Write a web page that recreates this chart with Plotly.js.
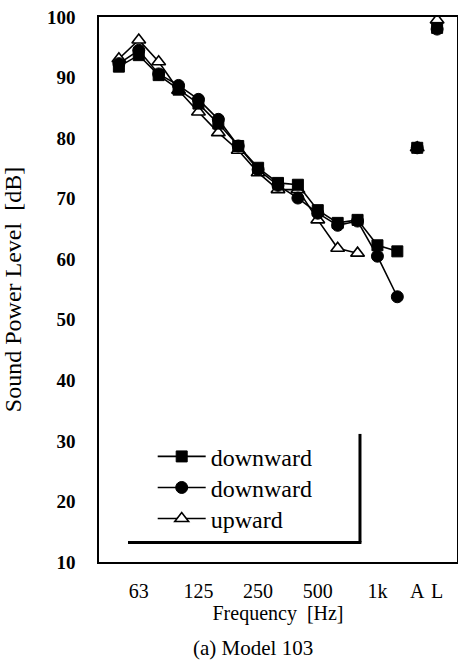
<!DOCTYPE html>
<html>
<head>
<meta charset="utf-8">
<script src="https://cdn.plot.ly/plotly-3.0.1.min.js"></script>
<style>html,body{margin:0;padding:0;background:#fff;}#chart{width:458px;height:672px;}</style>
</head>
<body>
<div id="chart"></div>
<script>
// 1/3-octave bands and overall values (A-weighted, linear)
const bands = ["50","63","80","100","125","160","200","250","315","400","500","630","800","1k","1.25k"];
const overall = ["A","L"];
const tickVals = ["63","125","250","500","1k","A","L"];
const tickText = ["63","125","250","500","1k","A","L"];

const downSquare = [91.8, 93.7, 90.4, 88.0, 85.7, 82.4, 78.7, 75.1, 72.6, 72.3, 68.1, 66.0, 66.5, 62.3, 61.3];
const downSquareOverall = [78.4, 98.2];
const downCircle = [92.3, 94.5, 90.6, 88.7, 86.4, 83.1, 78.7, 74.8, 72.2, 70.1, 67.6, 65.6, 66.3, 60.5, 53.8];
const downCircleOverall = [78.4, 98.0];
const upward = [93.1, 96.2, 92.6, 87.9, 84.3, 80.9, 78.0, 74.3, 71.5, 71.5, 66.5, 61.8, 61.0];
const upwardOverall = [78.4, 99.5];

const names = ["downward", "downward", "upward"];

const serif = "Liberation Serif, Times New Roman, serif";
const allCats = bands.concat(overall);

const lineStyle = {color: "#000", width: 1.6};
const sq = {symbol: "square", size: 11, color: "#000", line: {color: "#000", width: 1}};
const ci = {symbol: "circle", size: 12, color: "#000", line: {color: "#000", width: 1}};
const tr = {symbol: "triangle-up", size: 12, color: "#fff", line: {color: "#000", width: 1.6}};

const traces = [
  {x: overall, y: upwardOverall, mode: "markers", marker: tr, showlegend: false},
  {x: bands.slice(0, upward.length), y: upward, mode: "lines+markers", name: names[2], line: lineStyle, marker: tr, legend: "legend3"},
  {x: bands.slice(0, downCircle.length), y: downCircle, mode: "lines+markers", name: names[1], line: lineStyle, marker: ci, legend: "legend2"},
  {x: bands.slice(0, downSquare.length), y: downSquare, mode: "lines+markers", name: names[0], line: lineStyle, marker: sq, legend: "legend"},
  {x: overall, y: downCircleOverall, mode: "markers", marker: ci, showlegend: false},
  {x: overall, y: downSquareOverall, mode: "markers", marker: sq, showlegend: false}
];

const legendBase = {
  xanchor: "left", yanchor: "middle",
  bgcolor: "rgba(0,0,0,0)", borderwidth: 0,
  font: {family: serif, size: 24, color: "#000"},
  itemwidth: 48
};

const pad = "\u00A0".repeat(14);

const layout = {
  width: 458, height: 672,
  margin: {l: 99, r: 1, t: 17, b: 110},
  paper_bgcolor: "#fff", plot_bgcolor: "#fff",
  font: {family: serif, color: "#000"},
  xaxis: {
    type: "category", categoryorder: "array", categoryarray: allCats,
    range: [-1, 17],
    tickmode: "array", tickvals: tickVals, ticktext: tickText,
    ticks: "", showgrid: false, zeroline: false,
    showline: true, mirror: true, linecolor: "#000", linewidth: 1.6,
    tickfont: {family: serif, size: 20, color: "#000"},
    ticklabelstandoff: 10,
    title: {text: "Frequency  [Hz]", font: {family: serif, size: 20, color: "#000"}, standoff: 5}
  },
  yaxis: {
    range: [10, 100], dtick: 10, tick0: 10,
    ticks: "", showgrid: false, zeroline: false,
    showline: true, mirror: true, linecolor: "#000", linewidth: 1.6,
    tickfont: {family: serif, size: 19, color: "#000", weight: "bold"},
    ticklabelstandoff: 18,
    title: {text: "Sound Power Level  [dB]" + pad, font: {family: serif, size: 24, color: "#000"}, standoff: 18}
  },
  legend: Object.assign({}, legendBase, {x: 0.15, y: 0.193}),
  legend2: Object.assign({}, legendBase, {x: 0.15, y: 0.136}),
  legend3: Object.assign({}, legendBase, {x: 0.15, y: 0.079}),
  shapes: [
    {type: "line", xref: "paper", yref: "paper", x0: 0.729, x1: 0.729, y0: 0.036, y1: 0.235, line: {color: "#000", width: 3}},
    {type: "line", xref: "paper", yref: "paper", x0: 0.081, x1: 0.733, y0: 0.036, y1: 0.036, line: {color: "#000", width: 3}}
  ],
  annotations: [
    {text: "(a) Model 103", xref: "paper", yref: "paper", x: 0.43, y: -0.157, xanchor: "center", yanchor: "middle", showarrow: false, font: {family: serif, size: 21, color: "#000"}}
  ]
};

Plotly.newPlot("chart", traces, layout, {displayModeBar: false, staticPlot: true});
</script>
</body>
</html>
